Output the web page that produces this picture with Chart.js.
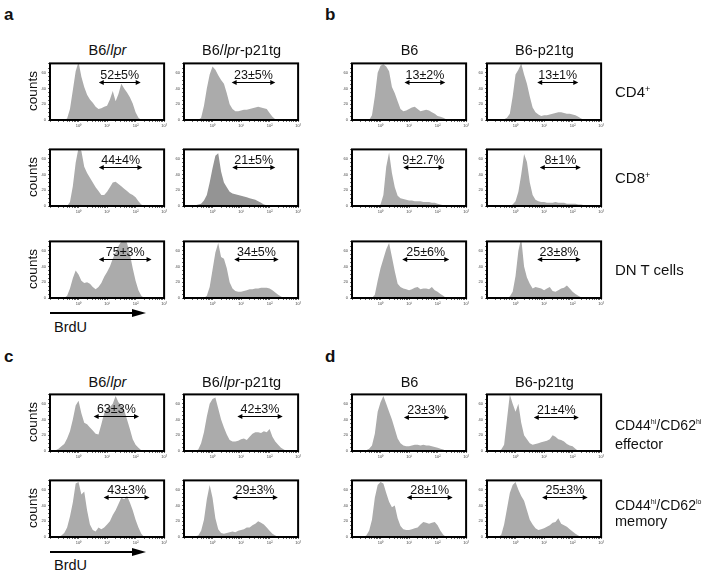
<!DOCTYPE html>
<html>
<head>
<meta charset="utf-8">
<script src="https://cdn.jsdelivr.net/npm/chart.js@4.4.1/dist/chart.umd.min.js"></script>
<style>
  body { margin: 0; width: 702px; height: 573px; position: relative; overflow: hidden; background: #fff;
         font-family: "Liberation Sans", Arial, Helvetica, sans-serif; color: #111; }
  canvas { position: absolute; }
  .t { position: absolute; white-space: nowrap; line-height: 1; }
  .c { transform: translate(-50%, -50%); }
  .l { transform: translate(0, -50%); }
  .rot { transform: translate(-50%, -50%) rotate(-90deg); }
  .t sup { font-size: 0.6em; position: relative; top: -0.5em; vertical-align: baseline; }
  .t.small sup { font-size: 0.5em; top: -0.8em; }
</style>
</head>
<body>
<svg width="702" height="573" style="position:absolute;left:0;top:0">
  <line x1="50" y1="313" x2="134" y2="313" stroke="#000" stroke-width="2"/>
  <polygon points="132,309 146,313 132,317" fill="#000"/>
  <line x1="50" y1="552" x2="134" y2="552" stroke="#000" stroke-width="2"/>
  <polygon points="132,548 146,552 132,556" fill="#000"/>
</svg>
<script>
// histogram bins, log10 of BrdU intensity (10^-1 .. 10^3)
const binX = [-1.0,-0.9,-0.8,-0.7,-0.6,-0.5,-0.4,-0.3,-0.2,-0.1,
               0.0, 0.1, 0.2, 0.3, 0.4, 0.5, 0.6, 0.7, 0.8, 0.9,
               1.0, 1.1, 1.2, 1.3, 1.4, 1.5, 1.6, 1.7, 1.8, 1.9,
               2.0, 2.1, 2.2, 2.3, 2.4, 2.5, 2.6, 2.7, 2.8, 2.9, 3.0];
const yTicks = [0, 20, 40, 60];
const xTickLabels = ['10\u2070', '10\u00b9', '10\u00b2', '10\u00b3'];

// a: B6/lpr vs B6/lpr-p21tg
const aLprCD4   = [0,0,0,0,0,0,2,14,38,62, 74,55,42,32,26,22,17,14,15,17, 18,26,37,24,33,46,40,35,29,21, 10,3,0,0,0,0,0,0,0,0,0];
const aTgCD4    = [0,0,0,0,0,0,3,18,40,58, 68,64,57,51,46,34,20,14,11,11, 12,13,13,14,15,16,17,16,15,14, 9,4,1,0,0,0,0,0,0,0,0];
const aLprCD8   = [0,0,0,0,0,0,0,5,25,55, 74,70,50,42,36,30,24,19,14,14, 18,24,30,31,28,25,22,19,16,14, 11,6,2,0,0,0,0,0,0,0,0];
const aTgCD8    = [0,0,0,0,1,2,3,7,14,30, 48,64,67,44,30,24,18,16,15,14, 13,12,11,10,9,8,6,4,2,1, 0,0,0,0,0,0,0,0,0,0,0];
const aLprDN    = [0,0,0,0,0,0,3,12,25,35, 30,22,19,20,18,14,11,14,19,27, 33,40,50,58,66,72,76,70,56,38, 22,10,3,0,0,0,0,0,0,0,0];
const aTgDN     = [0,0,0,0,0,0,0,0,3,14, 36,58,70,52,50,38,20,12,9,8, 8,9,10,11,11,12,12,13,13,13, 12,10,7,4,2,0,0,0,0,0,0];

// b: B6 vs B6-p21tg
const bB6CD4    = [0,0,0,0,0,0,0,6,30,60, 69,71,68,62,42,34,24,14,11,12, 14,16,17,14,11,12,13,12,10,8, 5,4,3,1,0,0,0,0,0,0,0];
const bTgCD4    = [0,0,0,0,0,0,1,3,8,30, 58,64,72,58,46,30,16,10,7,5, 6,6,7,8,9,10,10,9,8,8, 7,6,4,2,0,0,0,0,0,0,0];
const bB6CD8    = [0,0,0,0,0,0,0,0,0,0, 2,14,50,68,42,24,13,10,9,8, 7,7,6,6,6,5,5,5,4,4, 3,2,1,0,0,0,0,0,0,0,0];
const bTgCD8    = [0,0,0,0,0,0,0,0,0,2, 6,18,40,66,56,30,14,8,6,5, 5,4,4,4,5,4,4,4,3,3, 3,3,2,2,1,0,0,0,0,0,0];
const bB6DN     = [0,0,0,0,0,0,0,0,4,22, 38,50,62,70,52,34,18,14,12,11, 10,11,13,14,11,12,12,11,14,10, 8,5,3,0,0,0,0,0,0,0,0];
const bTgDN     = [0,0,0,0,0,0,0,0,2,8, 28,60,76,40,26,18,12,14,13,12, 10,12,14,9,8,10,12,13,16,12, 8,5,3,1,0,0,0,0,0,0,0];

// c: B6/lpr vs B6/lpr-p21tg, CD44hi subsets
const cLprEff   = [0,0,1,3,6,9,16,25,40,58, 64,48,36,34,30,26,22,21,34,48, 54,56,60,70,62,58,52,40,28,15, 8,4,1,0,0,0,0,0,0,0,0];
const cTgEff    = [0,0,0,0,0,2,10,24,44,60, 66,68,54,40,30,21,14,12,12,13, 15,16,14,18,22,24,24,23,25,24, 28,18,12,8,4,2,0,0,0,0,0];
const cLprMem   = [0,0,0,0,2,5,12,26,44,68, 70,54,58,34,16,9,7,12,10,12, 16,20,28,34,42,50,48,52,44,34, 22,12,4,0,0,0,0,0,0,0,0];
const cTgMem    = [0,0,0,0,1,2,8,22,48,66, 50,24,10,5,4,5,6,7,6,8, 9,10,12,12,15,17,20,18,16,12, 8,4,2,0,0,0,0,0,0,0,0];

// d: B6 vs B6-p21tg, CD44hi subsets
const dB6Eff    = [0,0,0,0,0,1,3,7,22,50, 62,70,60,50,40,28,16,10,7,6, 6,7,8,8,7,8,7,7,6,5, 4,3,2,0,0,0,0,0,0,0,0];
const dTgEff    = [0,0,0,0,0,2,8,40,72,60, 50,60,36,20,15,10,8,9,10,11, 12,13,15,20,18,15,14,12,9,7, 6,3,0,0,0,0,0,0,0,0,0];
const dB6Mem    = [0,0,0,0,0,2,8,22,50,66, 70,68,56,45,38,40,24,14,10,9, 9,10,11,12,16,19,18,17,18,19, 15,8,3,0,0,0,0,0,0,0,0];
const dTgMem    = [0,0,0,0,0,3,16,36,56,66, 70,60,52,46,34,22,16,11,9,10, 11,13,15,18,19,24,17,15,13,10, 7,4,2,0,0,0,0,0,0,0,0];

// gate (double arrow) per panel, same order as the panels list below
const gateText = ['52±5%','23±5%','44±4%','21±5%','75±3%','34±5%',
                  '13±2%','13±1%','9±2.7%','8±1%','25±6%','23±8%',
                  '63±3%','42±3%','43±3%','29±3%',
                  '23±3%','21±4%','28±1%','25±3%'];
const gateFrom = [0.71,0.67,0.71,0.69,0.71,0.76, 0.84,0.76,0.80,0.85,0.76,0.76, 0.53,0.87,0.88,0.69, 0.82,0.64,0.92,0.93];
const gateTo   = [2.18,2.20,2.24,2.20,2.56,2.32, 2.27,2.20,2.21,2.29,2.41,2.29, 2.12,2.46,2.49,2.29, 2.41,2.22,2.53,2.53];
const gateY    = [48,48,49,49,49,49, 48,48,49,49,49,49, 44,44,51,51, 43,43,51,51];

// layout (page pixels of each plot frame)
const colLeft = [50, 184, 352, 487];
const rowsAB = [61, 147, 239];
const rowsCD = [392, 478];
const frameW = 115, frameH = 59;

const panels = [
  [aLprCD4, 0, rowsAB[0]], [aTgCD4, 1, rowsAB[0]],
  [aLprCD8, 0, rowsAB[1]], [aTgCD8, 1, rowsAB[1], true],
  [aLprDN, 0, rowsAB[2]],  [aTgDN, 1, rowsAB[2]],
  [bB6CD4, 2, rowsAB[0]],  [bTgCD4, 3, rowsAB[0]],
  [bB6CD8, 2, rowsAB[1]],  [bTgCD8, 3, rowsAB[1]],
  [bB6DN, 2, rowsAB[2]],   [bTgDN, 3, rowsAB[2]],
  [cLprEff, 0, rowsCD[0]], [cTgEff, 1, rowsCD[0]],
  [cLprMem, 0, rowsCD[1]], [cTgMem, 1, rowsCD[1]],
  [dB6Eff, 2, rowsCD[0]],  [dTgEff, 3, rowsCD[0]],
  [dB6Mem, 2, rowsCD[1]],  [dTgMem, 3, rowsCD[1]]
];

// log-spaced minor ticks on the x axis
const xTickPos = [];
for (let d = -1; d < 3; d++) for (let k = 1; k < 10; k++) xTickPos.push(d + Math.log10(k));
xTickPos.push(3);

const framePlugin = {
  id: 'frame',
  afterDatasetsDraw(chart) {
    const { ctx, chartArea: a } = chart;
    ctx.save();
    ctx.strokeStyle = '#000';
    ctx.lineWidth = 2;
    ctx.strokeRect(a.left, a.top, a.right - a.left, a.bottom - a.top);
    ctx.restore();
  }
};

const gatePlugin = {
  id: 'gate',
  afterDatasetsDraw(chart, args, o) {
    const { ctx, scales: { x, y } } = chart;
    const x1 = x.getPixelForValue(o.from), x2 = x.getPixelForValue(o.to);
    const yy = Math.round(y.getPixelForValue(o.y)) + 0.5;
    ctx.save();
    ctx.strokeStyle = '#000';
    ctx.fillStyle = '#000';
    ctx.lineWidth = 1;
    ctx.beginPath();
    ctx.moveTo(x1 + 3, yy); ctx.lineTo(x2 - 3, yy);
    ctx.stroke();
    ctx.beginPath();
    ctx.moveTo(x1, yy); ctx.lineTo(x1 + 5, yy - 2.5); ctx.lineTo(x1 + 5, yy + 2.5); ctx.closePath();
    ctx.moveTo(x2, yy); ctx.lineTo(x2 - 5, yy - 2.5); ctx.lineTo(x2 - 5, yy + 2.5); ctx.closePath();
    ctx.fill();
    ctx.font = '12.5px "Liberation Sans", Arial, sans-serif';
    ctx.textAlign = 'center';
    ctx.textBaseline = 'alphabetic';
    ctx.fillStyle = '#111';
    ctx.fillText(o.text, (x1 + x2) / 2, yy - 4);
    ctx.restore();
  }
};

panels.forEach(([values, col, top, dark], i) => {
  const cv = document.createElement('canvas');
  const W = frameW + 25, H = frameH + 14;
  cv.width = W; cv.height = H;
  cv.style.width = W + 'px'; cv.style.height = H + 'px';
  cv.style.left = (colLeft[col] - 22) + 'px';
  cv.style.top = (top - 2) + 'px';
  document.body.appendChild(cv);

  new Chart(cv, {
    type: 'line',
    data: {
      datasets: [{
        data: binX.map((x, k) => ({ x, y: values[k] })),
        fill: 'origin',
        backgroundColor: dark ? '#949494' : '#ababab',
        borderColor: 'rgba(0,0,0,0)',
        borderWidth: 0,
        pointRadius: 0,
        tension: 0
      }]
    },
    options: {
      responsive: false,
      animation: false,
      devicePixelRatio: 1,
      layout: { padding: { left: 0, top: 2, right: 3, bottom: 0 } },
      plugins: {
        legend: { display: false },
        tooltip: { enabled: false },
        gate: { from: gateFrom[i], to: gateTo[i], y: gateY[i], text: gateText[i] }
      },
      scales: {
        x: {
          type: 'linear', min: -1, max: 3,
          afterBuildTicks: s => { s.ticks = xTickPos.map(v => ({ value: v })); },
          afterFit: s => { s.height = 12; },
          ticks: {
            autoSkip: false, maxRotation: 0, padding: 1,
            font: { size: 4 }, color: '#444',
            callback: v => (Math.abs(v - Math.round(v)) < 1e-9 && v >= 0) ? xTickLabels[Math.round(v)] : ''
          },
          grid: { drawOnChartArea: false, tickLength: 2, color: '#000', lineWidth: 0.6 },
          border: { display: false }
        },
        y: {
          min: 0, max: 72,
          afterFit: s => { s.width = 22; },
          ticks: {
            stepSize: 5, autoSkip: false, padding: 2,
            font: { size: 4 }, color: '#444',
            callback: v => yTicks.includes(v) ? String(v) : ''
          },
          grid: { drawOnChartArea: false, tickLength: 2, color: '#000', lineWidth: 0.6 },
          border: { display: false }
        }
      }
    },
    plugins: [framePlugin, gatePlugin]
  });
});

// text around the plots
function label(html, x, y, cls, size, weight) {
  const d = document.createElement('div');
  d.className = 't ' + cls;
  d.innerHTML = html;
  d.style.left = x + 'px';
  d.style.top = y + 'px';
  d.style.fontSize = size + 'px';
  if (weight) d.style.fontWeight = weight;
  document.body.appendChild(d);
}

const lprTitles = ['B6/<i>lpr</i>', 'B6/<i>lpr</i>-p21tg'];
const b6Titles = ['B6', 'B6-p21tg'];
const rowLabelsAB = ['CD4<sup>+</sup>', 'CD8<sup>+</sup>', 'DN T cells'];

label('a', 4, 14, 'l', 17, 'bold');
label('b', 325, 14, 'l', 17, 'bold');
label('c', 4, 356, 'l', 17, 'bold');
label('d', 325, 356, 'l', 17, 'bold');

[50, 382].forEach(ty => {
  lprTitles.forEach((t, k) => label(t, colLeft[k] + frameW / 2, ty, 'c', 14.5));
  b6Titles.forEach((t, k) => label(t, colLeft[k + 2] + frameW / 2, ty, 'c', 14.5));
});

rowsAB.forEach((top, k) => {
  label(rowLabelsAB[k], 615, top + frameH / 2, 'l', 15);
  label('counts', 33, top + frameH / 2, 'rot', 13.5);
});
rowsCD.forEach(top => label('counts', 33, top + frameH / 2, 'rot', 13.5));

label('CD44<sup>hi</sup>/CD62<sup>hi</sup>', 615, 425, 'l small', 14);
label('effector', 615, 444, 'l', 14.5);
label('CD44<sup>hi</sup>/CD62<sup>lo</sup>', 615, 505, 'l small', 14);
label('memory', 615, 521, 'l', 14.5);

label('BrdU', 54, 327, 'l', 14.5);
label('BrdU', 54, 565, 'l', 14.5);
</script>
</body>
</html>
